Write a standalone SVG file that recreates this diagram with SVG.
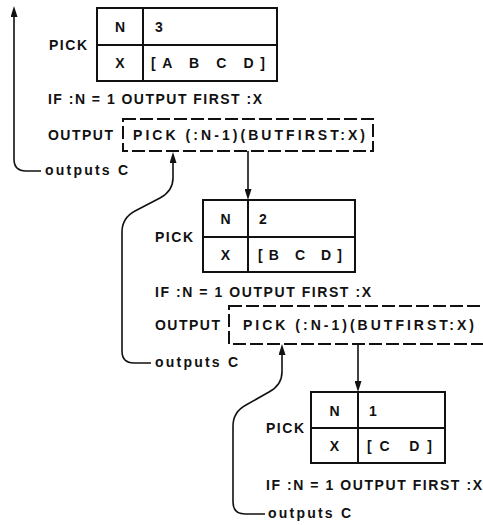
<svg xmlns="http://www.w3.org/2000/svg" width="483" height="525" viewBox="0 0 483 525">
<style>
  text { font-family: "Liberation Sans", Arial, sans-serif; font-weight: bold; font-size: 14px; fill: #111; }
  .cell { fill: none; stroke: #111; stroke-width: 2; }
  .dash { fill: none; stroke: #111; stroke-width: 2; stroke-dasharray: 13 4; }
  .conn { fill: none; stroke: #111; stroke-width: 1.6; }
  .mid { text-anchor: middle; }
</style>
<defs>
  <marker id="ah" viewBox="0 0 11 7" refX="8" refY="3.5" markerWidth="11" markerHeight="7" markerUnits="userSpaceOnUse" orient="auto">
    <path d="M0,0 L11,3.5 L0,7 z" fill="#111"/>
  </marker>
</defs>
<rect width="483" height="525" fill="#fff"/>

<g id="frame1">
  <text x="49" y="50" textLength="38" lengthAdjust="spacing">PICK</text>
  <rect class="cell" x="97" y="8" width="180" height="73"/>
  <line class="cell" x1="97" y1="45" x2="277" y2="45"/>
  <line class="cell" x1="143" y1="8" x2="143" y2="81"/>
  <text class="mid" x="120" y="32">N</text>
  <text class="mid" x="120" y="68">X</text>
  <text x="155" y="32">3</text>
  <text x="151" y="68" textLength="114" lengthAdjust="spacing">[A B C D]</text>
  <text x="48" y="104" textLength="214" lengthAdjust="spacing">IF :N = 1 OUTPUT FIRST :X</text>
  <text x="48" y="140" textLength="65" lengthAdjust="spacing">OUTPUT</text>
  <rect class="dash" x="123" y="119" width="250" height="32"/>
  <text x="133" y="140" textLength="232" lengthAdjust="spacing">PICK (:N-1)(BUTFIRST:X)</text>
  <text x="45" y="175" textLength="83" lengthAdjust="spacing">outputs C</text>
</g>

<g id="frame2">
  <text x="155" y="242" textLength="38" lengthAdjust="spacing">PICK</text>
  <rect class="cell" x="203" y="200" width="152" height="72"/>
  <line class="cell" x1="203" y1="237" x2="355" y2="237"/>
  <line class="cell" x1="248" y1="200" x2="248" y2="272"/>
  <text class="mid" x="225.5" y="224">N</text>
  <text class="mid" x="225.5" y="260">X</text>
  <text x="259" y="224">2</text>
  <text x="258" y="260" textLength="84" lengthAdjust="spacing">[B C D]</text>
  <text x="155" y="297" textLength="216" lengthAdjust="spacing">IF :N = 1 OUTPUT FIRST :X</text>
  <text x="155" y="330" textLength="65" lengthAdjust="spacing">OUTPUT</text>
  <rect class="dash" x="229" y="306" width="270" height="38"/>
  <text x="243" y="330" textLength="231" lengthAdjust="spacing">PICK (:N-1)(BUTFIRST:X)</text>
  <text x="155" y="367" textLength="83" lengthAdjust="spacing">outputs C</text>
</g>

<g id="frame3">
  <text x="266" y="433" textLength="38" lengthAdjust="spacing">PICK</text>
  <rect class="cell" x="311" y="392" width="134" height="71"/>
  <line class="cell" x1="311" y1="428" x2="445" y2="428"/>
  <line class="cell" x1="358" y1="392" x2="358" y2="463"/>
  <text class="mid" x="334.5" y="416">N</text>
  <text class="mid" x="334.5" y="451">X</text>
  <text x="369" y="416">1</text>
  <text x="367" y="451" textLength="65" lengthAdjust="spacing">[C D]</text>
  <text x="266" y="490" textLength="216" lengthAdjust="spacing">IF :N = 1 OUTPUT FIRST :X</text>
  <text x="268" y="518" textLength="83" lengthAdjust="spacing">outputs C</text>
</g>

<g id="connectors">
  <path class="conn" d="M41,171 H26 Q14,171 14,159 V9" marker-end="url(#ah)"/>
  <path class="conn" d="M248,151 V197" marker-end="url(#ah)"/>
  <path class="conn" d="M358,344 V389" marker-end="url(#ah)"/>
  <path class="conn" d="M151,363 H134 Q122,363 122,351 V232 Q122,218 135,211 L160,198 Q173,191 173,178 V155" marker-end="url(#ah)"/>
  <path class="conn" d="M265,514 H245 Q233,514 233,502 V426 Q233,412 246,405 L269,392 Q282,385 282,372 V347" marker-end="url(#ah)"/>
</g>
</svg>
